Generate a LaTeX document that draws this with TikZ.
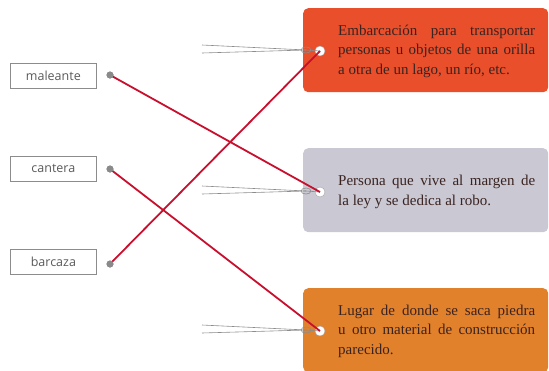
\documentclass[tikz,border=0pt]{standalone}
\usepackage{fontspec}
\setmainfont{Liberation Serif}
\newfontfamily\labfont{Open Sans}
\newcommand\tagtextfont{\fontsize{15}{19.5}\selectfont\hyphenpenalty=10000\relax}
\definecolor{tagred}{HTML}{E94F2B}
\definecolor{taggrey}{HTML}{C9C8D3}
\definecolor{tagorange}{HTML}{E2812B}
\definecolor{linkred}{HTML}{C8102E}
\definecolor{dotgrey}{HTML}{8A8A8A}
\definecolor{boxgrey}{HTML}{8C8C8C}
\definecolor{texttag}{HTML}{3A2320}
\begin{document}
\begin{tikzpicture}[x=1pt,y=-1pt,
  wordbox/.style={draw=boxgrey,line width=0.8pt,minimum width=86pt,minimum height=25pt,inner sep=0pt,font=\labfont\fontsize{12.5}{14}\selectfont,text=black!65},
  dotnode/.style={circle,fill=dotgrey,inner sep=0pt,minimum size=7pt},
  tag/.style={rounded corners=5pt,minimum width=245pt,minimum height=84pt,inner sep=0pt},
  hole/.style={circle,fill=white,draw=black!35,line width=0.4pt,inner sep=0pt,minimum size=10pt},
  tagtext/.style={anchor=west,text width=197pt,align=justify,font=\tagtextfont,text=texttag,inner sep=0pt},
  string/.style={draw=black!45,line width=0.6pt},
  link/.style={draw=linkred,line width=1.8pt}]
\useasboundingbox (0,0) rectangle (549,370);
% tags
\node[tag,fill=tagred,anchor=north west] (t1) at (303,8) {};
\node[tag,fill=taggrey,anchor=north west] (t2) at (303,148) {};
\node[tag,fill=tagorange,anchor=north west] (t3) at (303,288) {};
\node[hole] (h1) at (320,51) {};
\node[hole] (h2) at (320,192) {};
\node[hole] (h3) at (320,331) {};
\node[tagtext] (x1) at (338,51) {Embarcación para transportar\linebreak personas u objetos de una orilla\linebreak a otra de un lago, un río, etc.};
\node[tagtext] (x2) at (338,192) {Persona que vive al margen de\linebreak la ley y se dedica al robo.};
\node[tagtext] (x3) at (338,331) {Lugar de donde se saca piedra\linebreak u otro material de construcción\linebreak parecido.};
% strings
\foreach \i/\y in {1/51,2/192,3/331}{
  \coordinate (sa\i) at (202,\y-6);
  \coordinate (sb\i) at (202,\y+2);
  \coordinate (sk\i) at (306,\y-1);
  \draw[string] (sa\i) -- (sk\i) -- (h\i.center);
  \draw[string] (sb\i) -- (sk\i);
  \draw[string] (sk\i) ellipse (5pt and 3pt);
}
% words
\node[wordbox,anchor=north west] (w1) at (10,63) {maleante};
\node[wordbox,anchor=north west] (w2) at (10,156) {cantera};
\node[wordbox,anchor=north west] (w3) at (10,249) {barcaza};
\node[dotnode] (d1) at (110,75) {};
\node[dotnode] (d2) at (110,169) {};
\node[dotnode] (d3) at (110,264) {};
% links
\draw[link] (d1.center) -- (h2.center);
\draw[link] (d2.center) -- (h3.center);
\draw[link] (d3.center) -- (h1.center);
\node[dotnode] at (d1) {};
\node[dotnode] at (d2) {};
\node[dotnode] at (d3) {};
\end{tikzpicture}
\end{document}
